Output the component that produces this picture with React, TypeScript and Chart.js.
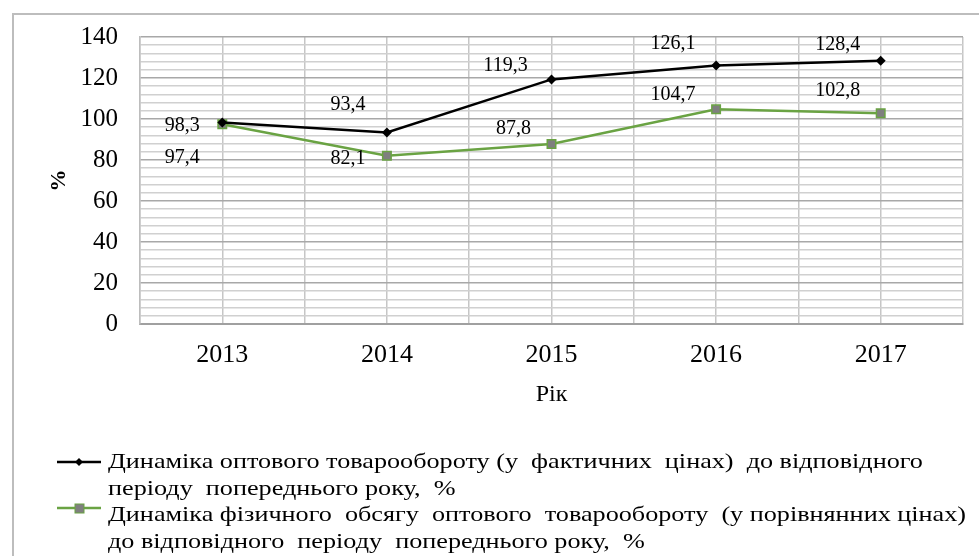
import React, { useEffect, useRef } from 'react';
import { Chart, registerables } from 'chart.js';

Chart.register(...registerables);

const years = ['2013', '2014', '2015', '2016', '2017'];
const nominalGrowth = [98.3, 93.4, 119.3, 126.1, 128.4];
const physicalGrowth = [97.4, 82.1, 87.8, 104.7, 102.8];
const yMin = 0;
const yMax = 140;
const yMajorStep = 20;
const yMinorStep = 4;
const yTitle = '%';
const xTitle = 'Рік';
const legendNominal = [
  'Динаміка оптового товарообороту (у  фактичних  цінах)  до відповідного',
  'періоду  попереднього року,  %',
];
const legendPhysical = [
  'Динаміка фізичного  обсягу  оптового  товарообороту  (у порівнянних цінах)',
  'до відповідного  періоду  попереднього року,  %',
];

const SERIF = '"Liberation Serif", "Times New Roman", serif';
const BLACK = '#000000';
const GREEN = '#6aa343';
const GREY_MARK = '#7f7f7f';

// label offsets (px) relative to each point
const nominalOffsets = [[-40, 3], [-39, -28], [-46, -14], [-43, -22], [-43, -16]];
const physicalOffsets = [[-40, 33], [-39, 3], [-38, -15], [-43, -15], [-43, -23]];

const fmt = (v: number) => v.toFixed(1).replace('.', ',');

const decorPlugin = {
  id: 'decor',
  beforeDraw(chart: any) {
    const ctx = chart.ctx;
    ctx.save();
    ctx.strokeStyle = '#bdbdbd';
    ctx.lineWidth = 2;
    ctx.beginPath();
    ctx.moveTo(13, chart.height + 5);
    ctx.lineTo(13, 14);
    ctx.lineTo(chart.width + 5, 14);
    ctx.stroke();
    ctx.restore();
  },
  afterDatasetsDraw(chart: any) {
    const ctx = chart.ctx;
    ctx.save();
    ctx.font = `20px ${SERIF}`;
    ctx.fillStyle = '#000';
    ctx.textAlign = 'center';
    ctx.textBaseline = 'middle';
    const offs = [nominalOffsets, physicalOffsets];
    chart.data.datasets.forEach((ds: any, di: number) => {
      const meta = chart.getDatasetMeta(di);
      meta.data.forEach((pt: any, i: number) => {
        const [dx, dy] = offs[di][i];
        ctx.fillText(fmt(ds.data[i].y), pt.x + dx, pt.y + dy);
      });
    });
    ctx.restore();
  },
  afterDraw(chart: any) {
    const ctx = chart.ctx;
    ctx.save();
    const items = [
      { lines: legendNominal, color: BLACK, y: 462, ty: [462, 489], marker: 'diamond' },
      { lines: legendPhysical, color: GREEN, y: 508, ty: [515, 542], marker: 'square' },
    ];
    items.forEach((it) => {
      ctx.strokeStyle = it.color;
      ctx.lineWidth = 2.5;
      ctx.beginPath();
      ctx.moveTo(57, it.y);
      ctx.lineTo(101, it.y);
      ctx.stroke();
      if (it.marker === 'diamond') {
        ctx.fillStyle = BLACK;
        ctx.beginPath();
        ctx.moveTo(79, it.y - 4);
        ctx.lineTo(83, it.y);
        ctx.lineTo(79, it.y + 4);
        ctx.lineTo(75, it.y);
        ctx.closePath();
        ctx.fill();
      } else {
        ctx.fillStyle = GREY_MARK;
        ctx.fillRect(75, it.y - 4, 9, 9);
        ctx.strokeStyle = GREEN;
        ctx.lineWidth = 1;
        ctx.strokeRect(75, it.y - 4, 9, 9);
      }
      ctx.fillStyle = '#000';
      ctx.font = `22px ${SERIF}`;
      ctx.textAlign = 'left';
      ctx.textBaseline = 'middle';
      it.lines.forEach((t, i) => {
        ctx.save();
        ctx.translate(108, it.ty[i]);
        ctx.scale(1.19, 1);
        ctx.fillText(t, 0, 0);
        ctx.restore();
      });
    });
    ctx.restore();
  },
};

export default function App() {
  const ref = useRef<HTMLCanvasElement>(null);
  useEffect(() => {
    document.body.style.margin = '0';
    const chart = new Chart(ref.current as HTMLCanvasElement, {
      type: 'line',
      data: {
        datasets: [
          {
            label: 'nominal',
            data: nominalGrowth.map((v, i) => ({ x: i, y: v })),
            borderColor: BLACK,
            backgroundColor: BLACK,
            borderWidth: 2.5,
            pointStyle: 'rectRot',
            pointRadius: 5,
            pointBorderWidth: 0,
            pointBackgroundColor: BLACK,
          },
          {
            label: 'physical',
            data: physicalGrowth.map((v, i) => ({ x: i, y: v })),
            borderColor: GREEN,
            backgroundColor: GREY_MARK,
            borderWidth: 2.5,
            pointStyle: 'rect',
            pointRadius: 6,
            pointBorderWidth: 1.5,
            pointBorderColor: GREEN,
            pointBackgroundColor: GREY_MARK,
          },
        ],
      },
      options: {
        animation: false,
        responsive: false,
        layout: { padding: { left: 0, top: 33, right: 16, bottom: 0 } },
        plugins: { legend: { display: false }, tooltip: { enabled: false } },
        scales: {
          x: {
            type: 'linear',
            min: -0.5,
            max: years.length - 0.5,
            afterFit: (s: any) => { s.height = 232; },
            ticks: {
              stepSize: 0.5,
              autoSkip: false,
              maxRotation: 0,
              padding: 16,
              color: '#000',
              font: { family: SERIF, size: 26 },
              callback: (v: any) => (Number.isInteger(v) ? years[v] : ''),
            },
            grid: { color: '#c6c6c6', lineWidth: 1.5, drawTicks: false },
            border: { color: '#a0a0a0', width: 2 },
            title: {
              display: true,
              text: xTitle,
              color: '#000',
              font: { family: SERIF, size: 24 },
              padding: { top: 0, bottom: 147 },
            },
          },
          y: {
            min: yMin,
            max: yMax,
            afterFit: (s: any) => { s.width = 140; },
            ticks: {
              stepSize: yMinorStep,
              autoSkip: false,
              padding: 22,
              color: '#000',
              font: { family: SERIF, size: 25 },
              callback: (v: any) => (v % yMajorStep === 0 ? String(v) : ''),
            },
            grid: {
              drawTicks: false,
              color: (c: any) => (c.tick && c.tick.value % yMajorStep === 0 ? '#a8a8a8' : '#d0d0d0'),
              lineWidth: 1.5,
            },
            border: { color: '#bdbdbd', width: 1.5 },
            title: {
              display: true,
              text: yTitle,
              color: '#000',
              font: { family: SERIF, size: 22, weight: 'bold' },
              padding: { top: 46, bottom: 0 },
            },
          },
        },
      },
      plugins: [decorPlugin],
    });
    return () => chart.destroy();
  }, []);
  return (
    <div style={{ width: 979, height: 556, position: 'relative', background: '#fff' }}>
      <canvas ref={ref} width={979} height={556} style={{ display: 'block' }} />
    </div>
  );
}
